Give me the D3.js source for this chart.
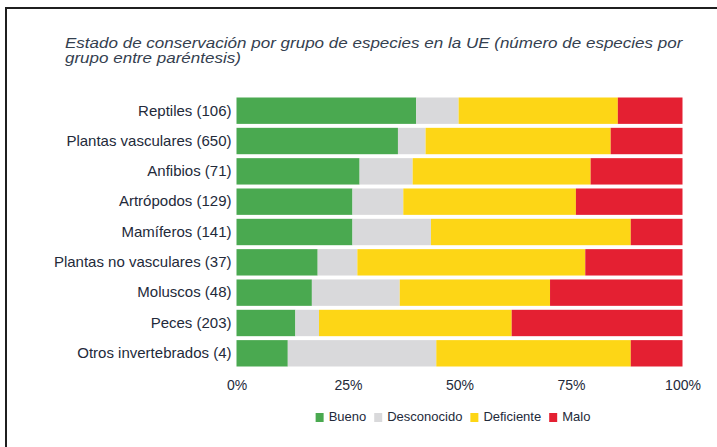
<!DOCTYPE html>
<html>
<head>
<meta charset="utf-8">
<script src="https://cdn.jsdelivr.net/npm/d3@7"></script>
<style>
  html, body { margin: 0; padding: 0; background: #fff; }
  svg { display: block; }
  text { font-family: "Liberation Sans", Arial, sans-serif; }
</style>
</head>
<body>
<svg id="chart" width="717" height="447"></svg>
<script>

// Categories (species group, number of species).
var categories = [
  'Reptiles (106)',
  'Plantas vasculares (650)',
  'Anfibios (71)',
  'Artrópodos (129)',
  'Mamíferos (141)',
  'Plantas no vasculares (37)',
  'Moluscos (48)',
  'Peces (203)',
  'Otros invertebrados (4)'
];

// Series values, percent.
var bueno =       [40.3, 36.2, 27.6, 26.0, 26.0, 18.2, 16.9, 13.2, 11.5];
var desconocido = [ 9.5,  6.2, 11.9, 11.4, 17.6,  8.9, 19.7,  5.3, 33.3];
var deficiente =  [35.7, 41.5, 39.9, 38.7, 44.8, 51.1, 33.7, 43.2, 43.6];
var malo =        [14.5, 16.1, 20.6, 23.9, 11.6, 21.8, 29.7, 38.3, 11.6];

// Legend + tick labels.
var seriesNames = ['Bueno', 'Desconocido', 'Deficiente', 'Malo'];
var tickValues = [0, 25, 50, 75, 100];

var titleLines = [
  'Estado de conservación por grupo de especies en la UE (número de especies por',
  'grupo entre paréntesis)'
];

// Build rows for the stack.
var rows = categories.map(function(c, i) {
  return { cat: c, Bueno: bueno[i], Desconocido: desconocido[i],
           Deficiente: deficiente[i], Malo: malo[i] };
});

var svg = d3.select('#chart');

// Frame (left + top rules).
svg.append('path')
  .attr('d', 'M6,447 L6,8 L717,8')
  .attr('fill', 'none')
  .attr('stroke', '#1f1f1f')
  .attr('stroke-width', 2);

// Title, squeezed to the condensed width of the original.
var title = svg.append('g').attr('transform', 'translate(65,0)');
var titleText = title.selectAll('text').data(titleLines).enter().append('text')
  .attr('x', 0)
  .attr('y', function(d, i) { return 48 + i * 15; })
  .attr('font-size', 14.5)
  .attr('font-style', 'italic')
  .attr('fill', '#34404f')
  .text(function(d) { return d; });
var natural = titleText.node().getComputedTextLength();
var squeeze = 618 / natural;
titleText.attr('transform', 'scale(' + squeeze + ',1)');

// Scales.
var x = d3.scaleLinear().domain([0, 100]).range([236.5, 682.5]);
var y = d3.scaleBand().domain(categories).range([97.5, 366.5])
  .paddingInner(0.13).paddingOuter(0);
var color = d3.scaleOrdinal().domain(seriesNames)
  .range(['#4aa950', '#d9d9db', '#fdd616', '#e42032']);

// Stacked bars.
var stacked = d3.stack().keys(seriesNames)(rows);

svg.append('g').selectAll('g').data(stacked).enter().append('g')
  .attr('fill', function(d) { return color(d.key); })
  .selectAll('rect').data(function(d) { return d; }).enter().append('rect')
  .attr('x', function(d) { return x(d[0]); })
  .attr('y', function(d) { return y(d.data.cat); })
  .attr('width', function(d) { return x(d[1]) - x(d[0]); })
  .attr('height', y.bandwidth());

// Category axis.
var yAxis = svg.append('g')
  .attr('transform', 'translate(' + x(0) + ',0)')
  .call(d3.axisLeft(y).tickSize(0).tickPadding(5));
yAxis.select('.domain').remove();
yAxis.selectAll('text')
  .attr('font-size', 15)
  .attr('fill', '#232a3a')
  .style('font-family', '"Liberation Sans", Arial, sans-serif');

// Percent axis.
var xAxis = svg.append('g')
  .attr('transform', 'translate(0,' + 366.5 + ')')
  .call(d3.axisBottom(x).tickValues(tickValues)
    .tickFormat(function(d) { return d + '%'; })
    .tickSize(0).tickPadding(14));
xAxis.select('.domain').remove();
xAxis.selectAll('text')
  .attr('font-size', 14)
  .attr('fill', '#232a3a')
  .style('font-family', '"Liberation Sans", Arial, sans-serif');

// Legend, centred under the plot.
var legend = svg.append('g');
var item = legend.selectAll('g').data(seriesNames).enter().append('g');
item.append('rect')
  .attr('width', 8).attr('height', 9)
  .attr('y', -8)
  .attr('fill', function(d) { return color(d); });
item.append('text')
  .attr('x', 13)
  .attr('font-size', 13)
  .attr('fill', '#232a3a')
  .text(function(d) { return d; });

var offset = 0;
item.each(function() {
  var g = d3.select(this);
  g.attr('transform', 'translate(' + offset + ',0)');
  offset += 13 + g.select('text').node().getComputedTextLength() + 8;
});
var legendWidth = offset - 8;
legend.attr('transform', 'translate(' + (453 - legendWidth / 2) + ',421)');

</script>
</body>
</html>
